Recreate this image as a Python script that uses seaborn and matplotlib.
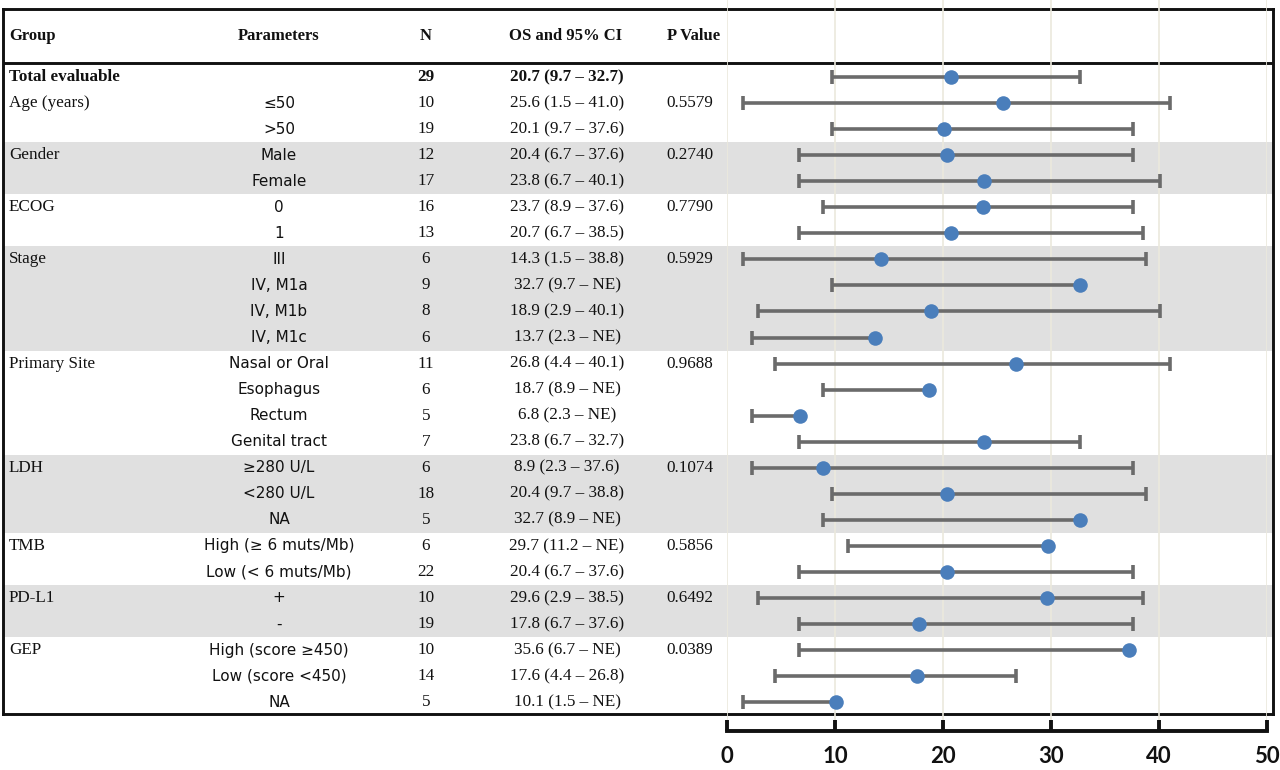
import numpy as np
import pandas as pd
import matplotlib.pyplot as plt
import seaborn as sns

# table columns
groups = ["Total evaluable", "Age (years)", "", "Gender", "", "ECOG", "", "Stage", "", "", "",
          "Primary Site", "", "", "", "LDH", "", "", "TMB", "", "PD-L1", "", "GEP", "", ""]
params = ["", "≤50", ">50", "Male", "Female", "0", "1", "III", "IV, M1a", "IV, M1b", "IV, M1c",
          "Nasal or Oral", "Esophagus", "Rectum", "Genital tract", "≥280 U/L", "<280 U/L", "NA",
          "High (≥ 6 muts/Mb)", "Low (< 6 muts/Mb)", "+", "-", "High (score ≥450)", "Low (score <450)", "NA"]
n_pts = [29, 10, 19, 12, 17, 16, 13, 6, 9, 8, 6, 11, 6, 5, 7, 6, 18, 5, 6, 22, 10, 19, 10, 14, 5]
os_text = ["20.7 (9.7 – 32.7)", "25.6 (1.5 – 41.0)", "20.1 (9.7 – 37.6)", "20.4 (6.7 – 37.6)",
           "23.8 (6.7 – 40.1)", "23.7 (8.9 – 37.6)", "20.7 (6.7 – 38.5)", "14.3 (1.5 – 38.8)",
           "32.7 (9.7 – NE)", "18.9 (2.9 – 40.1)", "13.7 (2.3 – NE)", "26.8 (4.4 – 40.1)",
           "18.7 (8.9 – NE)", "6.8 (2.3 – NE)", "23.8 (6.7 – 32.7)", "8.9 (2.3 – 37.6)",
           "20.4 (9.7 – 38.8)", "32.7 (8.9 – NE)", "29.7 (11.2 – NE)", "20.4 (6.7 – 37.6)",
           "29.6 (2.9 – 38.5)", "17.8 (6.7 – 37.6)", "35.6 (6.7 – NE)", "17.6 (4.4 – 26.8)",
           "10.1 (1.5 – NE)"]
p_values = ["", "0.5579", "", "0.2740", "", "0.7790", "", "0.5929", "", "", "", "0.9688", "", "", "",
            "0.1074", "", "", "0.5856", "", "0.6492", "", "0.0389", "", ""]

# forest plot values as drawn (NaN = NE, no upper whisker)
os_plot = [20.7, 25.6, 20.1, 20.4, 23.8, 23.7, 20.7, 14.3, 32.7, 18.9, 13.7, 26.8, 18.7, 6.8, 23.8,
           8.9, 20.4, 32.7, 29.7, 20.4, 29.6, 17.8, 37.2, 17.6, 10.1]
ci_low = [9.7, 1.5, 9.7, 6.7, 6.7, 8.9, 6.7, 1.5, 9.7, 2.9, 2.3, 4.4, 8.9, 2.3, 6.7, 2.3, 9.7, 8.9,
          11.2, 6.7, 2.9, 6.7, 6.7, 4.4, 1.5]
ci_high = [32.7, 41.0, 37.6, 37.6, 40.1, 37.6, 38.5, 38.8, np.nan, 40.1, np.nan, 41.0, np.nan, np.nan,
           32.7, 37.6, 38.8, np.nan, np.nan, 37.6, 38.5, 37.6, np.nan, 26.8, np.nan]
shaded_groups = ["Gender", "Stage", "LDH", "PD-L1"]
x_ticks = [0, 10, 20, 30, 40, 50]

sns.set_style("white")
plt.rcParams['font.family'] = ['DejaVu Sans']
plt.rcParams['text.color'] = '#111111'

W, H = 1280, 770
fig = plt.figure(figsize=(12.8, 7.7), dpi=100)

ROW0, STEP = 77, 26.05


def row_of(py):
    return (py - ROW0) / STEP


def px_axes(x0, y0, x1, y1):
    return fig.add_axes([x0 / W, 1 - y1 / H, (x1 - x0) / W, (y1 - y0) / H])


df = pd.DataFrame({"group": groups, "param": params, "n": n_pts, "os_text": os_text,
                   "p": p_values, "os": os_plot, "lo": ci_low, "hi": ci_high})
df["row"] = np.arange(len(df))

# ---- table (background) ----
tab = px_axes(3, 9, 1273, 714)
tab.set_xlim(3, 1273)
tab.set_ylim(row_of(714), row_of(9))
tab.set_xticks([])
tab.set_yticks([])
for s in tab.spines.values():
    s.set_linewidth(2.1)
    s.set_color("#111111")

starts = [i for i, g in enumerate(groups) if g]
for k, i in enumerate(starts):
    end = starts[k + 1] if k + 1 < len(starts) else len(groups)
    if groups[i] in shaded_groups:
        tab.axhspan(i - 0.5, end - 0.5, color="#e0e0e0", lw=0, zorder=0)

tab.axhline(row_of(63), color="#111111", lw=2.1)

serif = "Liberation Serif"
hy = row_of(36)
tab.text(9, hy, "Group", ha="left", va="center", family=serif, weight="bold", fontsize=12)
tab.text(279, hy, "Parameters", ha="center", va="center", family=serif, weight="bold", fontsize=12)
tab.text(426, hy, "N", ha="center", va="center", family=serif, weight="bold", fontsize=12)
tab.text(566, hy, "OS and 95% CI", ha="center", va="center", family=serif, weight="bold", fontsize=12)
tab.text(694, hy, "P Value", ha="center", va="center", family=serif, weight="bold", fontsize=12)

for _, r in df.iterrows():
    bold = "bold" if r["row"] == 0 else "normal"
    y = r["row"]
    tab.text(9, y, r["group"], ha="left", va="center", family=serif, weight=bold, fontsize=12.3)
    tab.text(279, y, r["param"], ha="center", va="center", family="DejaVu Sans", fontsize=11)
    tab.text(426, y, str(r["n"]), ha="center", va="center", family=serif, weight=bold, fontsize=12.3)
    tab.text(567, y, r["os_text"], ha="center", va="center", family=serif, weight=bold, fontsize=12.3)
    tab.text(690, y, r["p"], ha="center", va="center", family=serif, fontsize=12.3)

# ---- forest plot ----
ax = px_axes(727, 0, 1267, 731)
ax.set_facecolor("none")
ax.set_xlim(0, 50)
ax.set_ylim(row_of(731), row_of(0))

bar_col = "#6b6b6b"
whisk_end = df["hi"].fillna(df["os"])
ax.hlines(df["row"], df["lo"], whisk_end, color=bar_col, lw=2.6, zorder=3)
ax.plot(df["lo"], df["row"], ls="none", marker="|", ms=10, mew=2.6, color=bar_col, zorder=3)
has_hi = df["hi"].notna()
ax.plot(df.loc[has_hi, "hi"], df.loc[has_hi, "row"], ls="none", marker="|", ms=10, mew=2.6,
        color=bar_col, zorder=3)
sns.scatterplot(data=df, x="os", y="row", ax=ax, color="#4a7ebb", s=110, linewidth=0, zorder=4)

ax.set_xticks(x_ticks)
ax.set_yticks([])
ax.set_xlabel("")
ax.set_ylabel("")
ax.grid(axis="x", color="#ebe9dd", lw=1.2)
ax.set_axisbelow(True)
for side in ["top", "right", "left"]:
    ax.spines[side].set_visible(False)
ax.spines["bottom"].set_linewidth(2.8)
ax.spines["bottom"].set_color("#111111")
ax.tick_params(axis="x", bottom=True, direction="in", length=8, width=2.8, color="#111111", pad=11)
for lab in ax.get_xticklabels():
    lab.set_fontfamily("Lato")
    lab.set_fontweight("bold")
    lab.set_fontsize(16)
    lab.set_color("#111111")

fig.savefig("out.png", dpi=100)
plt.close(fig)
